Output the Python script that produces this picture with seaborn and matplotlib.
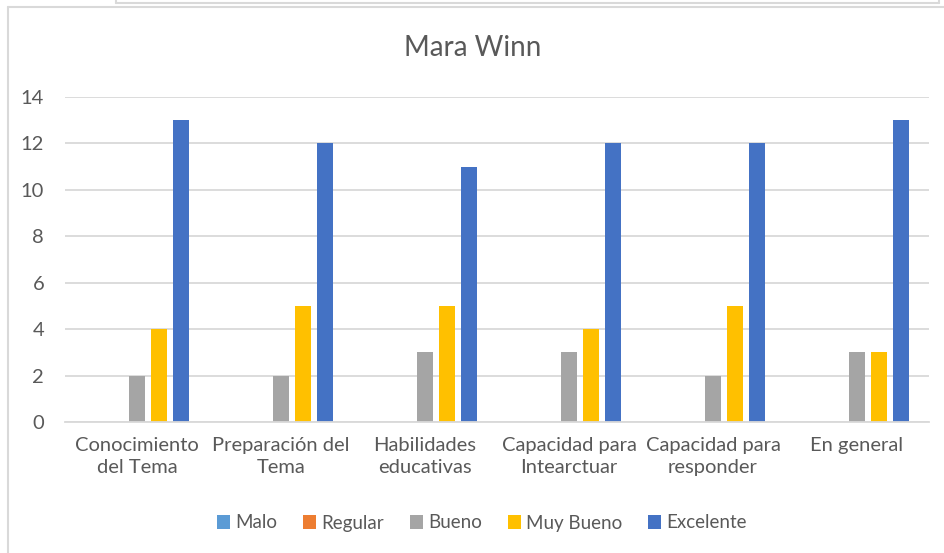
import matplotlib
matplotlib.use("Agg")
import matplotlib.pyplot as plt
from matplotlib.lines import Line2D
from matplotlib.patches import Patch
import seaborn as sns
import pandas as pd

categories = ["Conocimiento\ndel Tema", "Preparación del\nTema", "Habilidades\neducativas",
              "Capacidad para\nIntearctuar", "Capacidad para\nresponder", "En general"]
series = ["Malo", "Regular", "Bueno", "Muy Bueno", "Excelente"]
malo = [0, 0, 0, 0, 0, 0]
regular = [0, 0, 0, 0, 0, 0]
bueno = [2, 2, 3, 3, 2, 3]
muy_bueno = [4, 5, 5, 4, 5, 3]
excelente = [13, 12, 11, 12, 12, 13]
colors = ["#5B9BD5", "#ED7D31", "#A5A5A5", "#FFC000", "#4472C4"]
yticks = [0, 2, 4, 6, 8, 10, 12, 14]

rows = []
for s, vals in zip(series, [malo, regular, bueno, muy_bueno, excelente]):
    for c, v in zip(categories, vals):
        rows.append({"cat": c, "serie": s, "val": v})
df = pd.DataFrame(rows)

sns.set_theme(style="white")
plt.rcParams["font.family"] = ["Lato", "DejaVu Sans"]

fig = plt.figure(figsize=(9.44, 5.53), dpi=100)
ax = fig.add_axes([65/944, 1-422/553, 864/944, 325/553])

sns.barplot(data=df, x="cat", y="val", hue="serie", order=categories, hue_order=series,
            palette=colors, width=0.764, gap=0.23, ax=ax, legend=False, saturation=1,
            edgecolor="none")

ax.set_xlim(-0.5, len(categories)-0.5)
ax.set_ylim(0, 14)
ax.set_yticks(yticks)
ax.yaxis.grid(True, color="#D9D9D9", linewidth=1.3)
ax.set_axisbelow(True)
for sp in ["top", "right", "left"]:
    ax.spines[sp].set_visible(False)
ax.spines["bottom"].set_color("#D9D9D9")
ax.spines["bottom"].set_linewidth(1.3)
ax.tick_params(axis="both", length=0, colors="#595959", labelsize=14.5)
ax.tick_params(axis="y", pad=15)
ax.tick_params(axis="x", pad=11)
ax.set_xlabel("")
ax.set_ylabel("")
for lab in ax.get_xticklabels():
    lab.set_multialignment("center")
    lab.set_linespacing(1.35)

fig.text(473/944, 1-48/553, "Mara Winn", ha="center", va="center", fontsize=20, color="#595959")

handles = [Patch(facecolor=c, edgecolor="none", label=s) for s, c in zip(series, colors)]
fig.legend(handles=handles, loc="center", bbox_to_anchor=(482/944, 1-523/553), ncol=5,
           frameon=False, fontsize=13.5, labelcolor="#595959", handlelength=0.7,
           handleheight=0.7, handletextpad=0.3, columnspacing=1.35)

# chart borders
bc = "#D9D9D9"
fig.add_artist(Line2D([8/944, 8/944], [0, 1-7/553], transform=fig.transFigure, color=bc, lw=1.5))
fig.add_artist(Line2D([8/944, 1], [1-7/553, 1-7/553], transform=fig.transFigure, color=bc, lw=1.5))
fig.add_artist(Line2D([116/944, 939/944], [1-3/553, 1-3/553], transform=fig.transFigure, color=bc, lw=1.5))
fig.add_artist(Line2D([116/944, 116/944], [1-3/553, 1], transform=fig.transFigure, color=bc, lw=1.5))
fig.add_artist(Line2D([939/944, 939/944], [1-3/553, 1], transform=fig.transFigure, color=bc, lw=1.5))

fig.savefig("out.png", dpi=100, facecolor="white")
